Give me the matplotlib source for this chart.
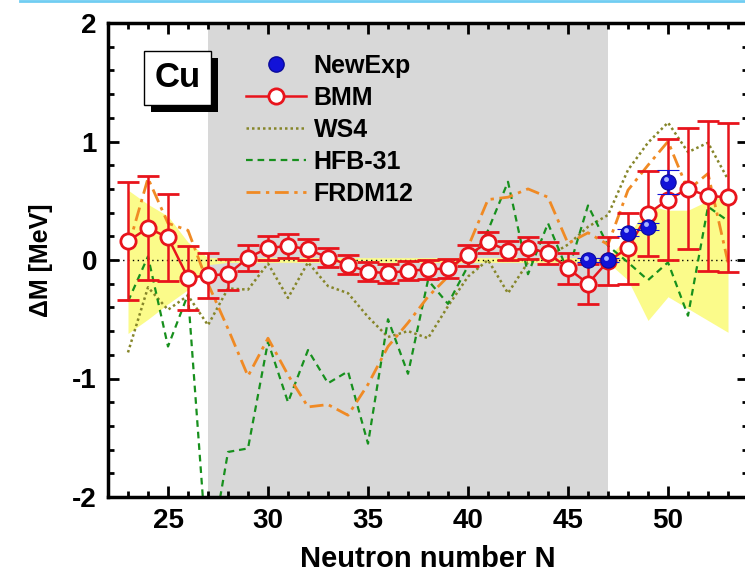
import matplotlib
matplotlib.use("Agg")
import matplotlib.pyplot as plt
from matplotlib import patheffects
from matplotlib.lines import Line2D
from matplotlib.ticker import MultipleLocator
from matplotlib.transforms import offset_copy

plt.rcParams['font.family'] = 'Liberation Sans'
plt.rcParams['font.weight'] = 'bold'
plt.rcParams['axes.labelweight'] = 'bold'
plt.rcParams['axes.unicode_minus'] = False

# Neutron numbers
n_all = list(range(23, 54))

# BMM mass differences and errors (MeV)
bmm = [0.16, 0.27, 0.19, -0.15, -0.13, -0.12, 0.02, 0.10, 0.12, 0.09, 0.02,
       -0.04, -0.10, -0.11, -0.09, -0.08, -0.07, 0.04, 0.15, 0.08, 0.10, 0.06,
       -0.07, -0.20, -0.01, 0.10, 0.39, 0.51, 0.60, 0.54, 0.53]
bmm_err = [0.50, 0.44, 0.37, 0.27, 0.19, 0.13, 0.11, 0.10, 0.10, 0.09, 0.08,
           0.08, 0.08, 0.08, 0.08, 0.08, 0.08, 0.09, 0.09, 0.08, 0.09, 0.09,
           0.13, 0.17, 0.20, 0.30, 0.36, 0.51, 0.51, 0.63, 0.63]

# New experimental points
n_exp = [46, 47, 48, 49, 50]
new_exp = [0.0, 0.0, 0.23, 0.28, 0.66]
new_exp_err = [0.02, 0.02, 0.03, 0.03, 0.10]

# Theory models
ws4 = [-0.78, -0.23, -0.42, -0.30, -0.55, -0.24, -0.25, -0.03, -0.32, -0.02, -0.22,
       -0.28, -0.48, -0.65, -0.60, -0.66, -0.39, -0.14, 0.00, -0.28, -0.02, 0.03,
       0.13, 0.28, 0.38, 0.76, 0.99, 1.16, 0.91, 0.99, 0.68]
hfb31 = [-0.35, 0.03, -0.73, -0.29, -2.60, -1.62, -1.59, -0.69, -1.20, -0.76, -1.04,
         -0.94, -1.55, -0.50, -0.96, -0.17, -0.37, -0.05, 0.25, 0.66, -0.12, 0.31,
         -0.10, 0.46, 0.12, -0.02, -0.17, -0.02, -0.47, 0.45, 0.33]
frdm12 = [0.10, 0.69, 0.31, 0.25, -0.20, -0.58, -0.98, -0.66, -0.97, -1.24, -1.22,
          -1.31, -1.05, -0.73, -0.53, -0.31, -0.14, 0.11, 0.51, 0.53, 0.60, 0.53,
          0.14, 0.23, 0.13, 0.59, 0.80, 1.00, 0.59, 0.73, -0.02]

# Yellow uncertainty band
band_hi = [0.59, 0.47, 0.37, 0.15, 0.02, 0.02, 0.02, 0.02, 0.02, 0.02, 0.02,
           0.02, 0.02, 0.02, 0.02, 0.02, 0.02, 0.02, 0.02, 0.02, 0.02, 0.02,
           0.02, 0.02, 0.02, 0.20, 0.46, 0.42, 0.42, 0.50, 0.55]
band_lo = [-0.62, -0.50, -0.37, -0.25, -0.04, -0.02, -0.02, -0.02, -0.02, -0.02, -0.02,
           -0.02, -0.02, -0.02, -0.02, -0.02, -0.02, -0.02, -0.02, -0.02, -0.02, -0.02,
           -0.02, -0.02, -0.02, -0.17, -0.51, -0.31, -0.41, -0.51, -0.61]

fig = plt.figure(figsize=(7.45, 5.8), dpi=100)
ax = fig.add_axes([108/745, 83/580, 640/745, 474/580])

ax.axvspan(27, 47, color='#d8d8d8', zorder=0, lw=0)
ax.fill_between(n_all, band_lo, band_hi, color='#fbfb8a', lw=0, zorder=1)
ax.axhline(0, color='black', ls=(0, (1, 2.5)), lw=1, zorder=1.5)

ax.plot(n_all, ws4, color='#86862a', ls=(0, (1, 1.2)), lw=1.8, zorder=2)
ax.plot(n_all, hfb31, color='#17901d', ls=(0, (3, 2.2)), lw=1.6, zorder=2)
ax.plot(n_all, frdm12, color='#f08a24', ls=(0, (5, 2, 1.2, 2)), lw=2, zorder=2)

ax.errorbar(n_all, bmm, yerr=bmm_err, color='#e8141c', lw=1.8, elinewidth=1.8,
            capsize=8, capthick=1.8, marker='o', ms=11, mfc='white', mew=2,
            mec='#e8141c', zorder=3)

ax.errorbar(n_exp, new_exp, yerr=new_exp_err, fmt='o', color='#1212d8', ms=11,
            mec='#0a0a9a', mew=0.8, elinewidth=1.8, capsize=8, capthick=1.8, zorder=4)
hl = offset_copy(ax.transData, fig=fig, x=-1.8, y=1.8, units='points')
ax.plot(n_exp, new_exp, 'o', ms=3.5, color='#a8b4ff', mew=0, transform=hl, zorder=5)

ax.set_xlim(22, 54)
ax.set_ylim(-2, 2)
ax.xaxis.set_major_locator(MultipleLocator(5))
ax.xaxis.set_minor_locator(MultipleLocator(1))
ax.yaxis.set_major_locator(MultipleLocator(1))
ax.yaxis.set_minor_locator(MultipleLocator(0.2))
ax.tick_params(which='both', direction='in', top=True, right=True, width=2, labelsize=20)
ax.tick_params(which='major', length=8, pad=8)
ax.tick_params(which='minor', length=4)
for s in ax.spines.values():
    s.set_linewidth(2.5)

ax.set_xlabel('Neutron number N', fontsize=21, labelpad=8)
ax.set_ylabel('ΔM [MeV]', fontsize=18, labelpad=14)

# Element label box with shadow
t = ax.text(0.109, 0.884, 'Cu', transform=ax.transAxes, fontsize=25,
            ha='center', va='center', zorder=6,
            bbox=dict(boxstyle='square,pad=0.3', fc='white', ec='black', lw=1))
t.get_bbox_patch().set_path_effects([
    patheffects.SimplePatchShadow(offset=(5, -5), shadow_rgbFace='black', alpha=1),
    patheffects.Normal()])

handles = [
    Line2D([], [], ls='none', marker='o', ms=11, color='#1212d8', mec='#0a0a9a'),
    Line2D([], [], color='#e8141c', lw=1.8, marker='o', ms=11, mfc='white', mew=2),
    Line2D([], [], color='#86862a', ls=(0, (1, 1.2)), lw=1.8),
    Line2D([], [], color='#17901d', ls=(0, (3, 2.2)), lw=1.6),
    Line2D([], [], color='#f08a24', ls=(0, (5, 2, 1.2, 2)), lw=2),
]
labels = ['NewExp', 'BMM', 'WS4', 'HFB-31', 'FRDM12']
ax.legend(handles, labels, loc='upper left', bbox_to_anchor=(0.216, 0.935),
          frameon=False, fontsize=18, handlelength=2.4, handletextpad=0.3,
          labelspacing=0.32, borderpad=0, borderaxespad=0)

fig.add_artist(Line2D([0.027, 1], [0.998, 0.998], color='#70cdf2', lw=2,
                      transform=fig.transFigure))

fig.savefig('out.png', dpi=100)
